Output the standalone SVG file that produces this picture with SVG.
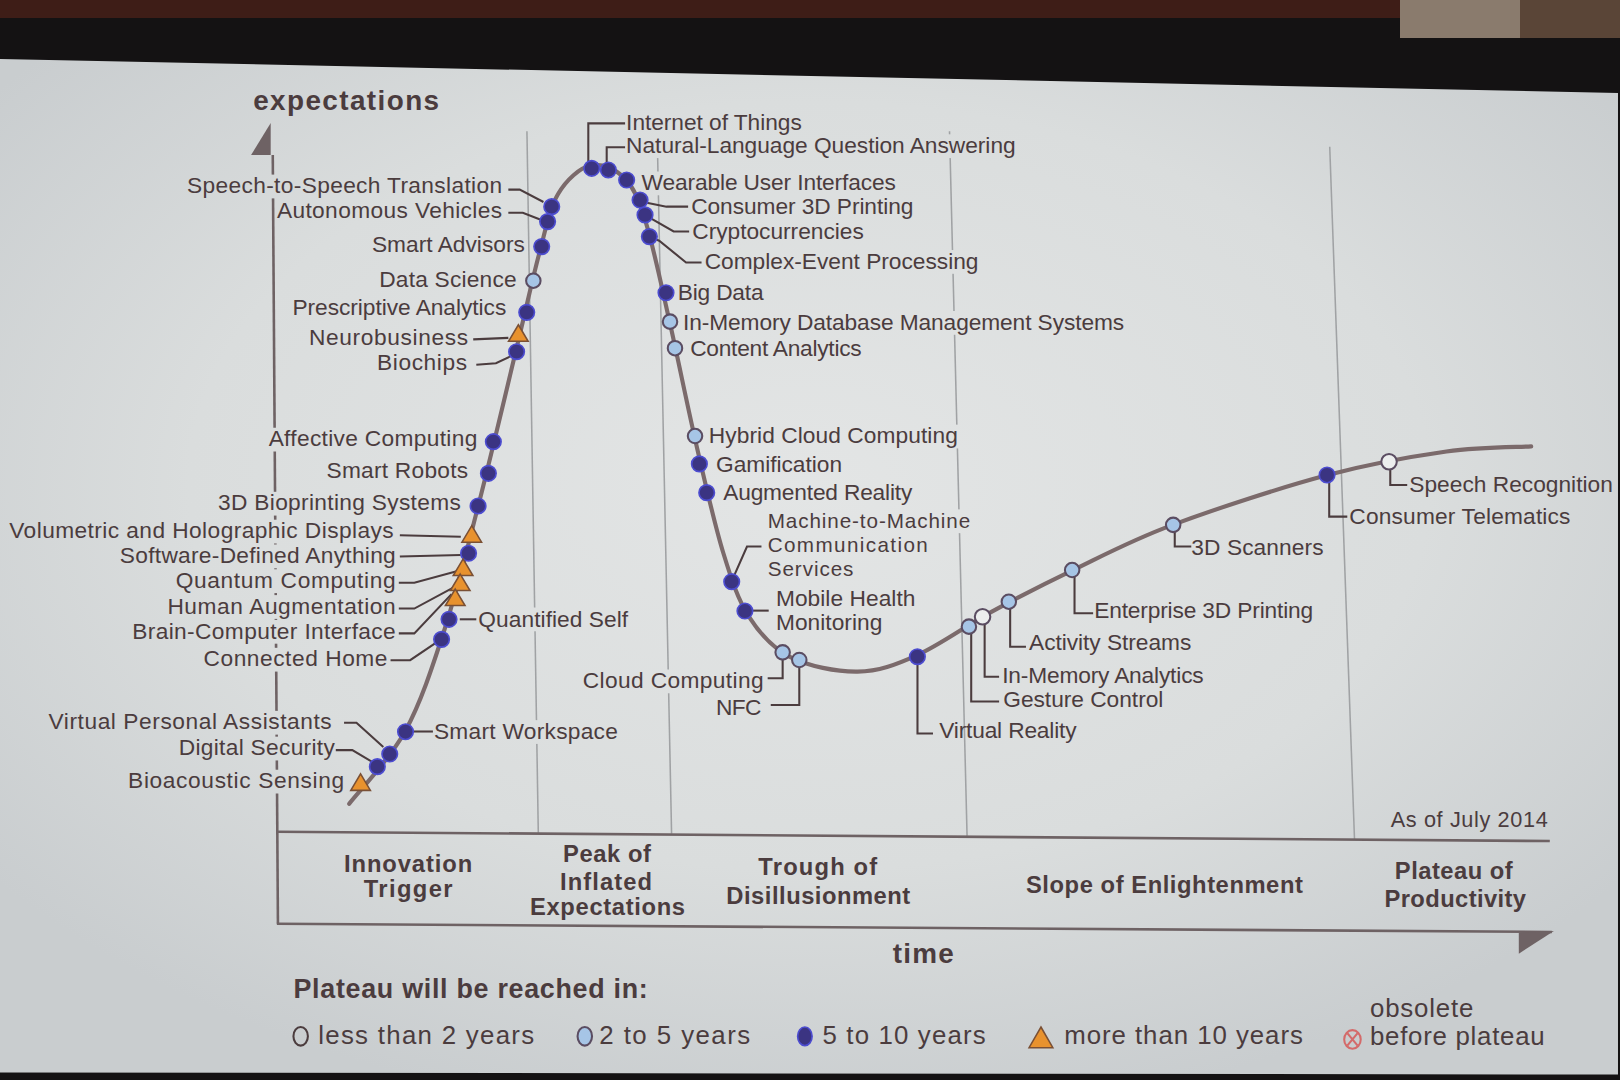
<svg xmlns="http://www.w3.org/2000/svg" xmlns:xlink="http://www.w3.org/1999/xlink" width="1620" height="1080" viewBox="0 0 1620 1080">
<defs>
<radialGradient id="scr" gradientUnits="userSpaceOnUse" cx="783" cy="470" r="1000" gradientTransform="translate(783 470) scale(1 0.62) translate(-783 -470)">
<stop offset="0" stop-color="#e3e5e5"/>
<stop offset="0.6" stop-color="#dadddd"/>
<stop offset="1" stop-color="#c9cdcf"/>
</radialGradient>
<path id="tri" d="M0,-9 L9.5,7 L-9.5,7 Z"/>
<style>
text{font-family:"Liberation Sans",Arial,sans-serif;fill:#4b3c3e}
.lbl{font-size:22px}
.ph{font-size:23px;font-weight:bold}
.big{font-size:27px;font-weight:bold}
.leg{font-size:25px}
.dk{fill:#3b3482;stroke:#4c4cd0;stroke-width:1.6}
.lb{fill:#a6c5e6;stroke:#5b4d62;stroke-width:2}
.wh{fill:#eceeee;stroke:#5b4d62;stroke-width:2}
.tr{fill:#e8922e;stroke:#7a5035;stroke-width:1.5}
.ldr{fill:none;stroke:#4b3c3e;stroke-width:2;stroke-linejoin:miter}
.div{stroke:#a0a2a4;stroke-width:1.5}
.ax{stroke:#6e6264;stroke-width:2.5;fill:none}
.bg{fill:url(#scr)}
</style>
</defs>
<rect width="1620" height="1080" fill="#141213"/>
<rect x="0" y="0" width="1400" height="18" fill="#3e1d17"/>
<rect x="1400" y="0" width="120" height="38" fill="#8a7b6d"/>
<rect x="1520" y="0" width="100" height="38" fill="#5a4537"/>
<g transform="scale(1.0332)">
<polygon points="0,57 1566,90 1566,1040 0,1038" class="bg"/>
<g id="axes">
<line class="div" x1="510" y1="127" x2="521" y2="806"/>
<line class="div" x1="636" y1="127" x2="650" y2="807"/>
<line class="div" x1="919" y1="127" x2="936" y2="809"/>
<line class="div" x1="1287" y1="142" x2="1311" y2="813"/>
<line class="ax" x1="264" y1="150" x2="269" y2="894"/>
<polygon points="262,119 262,150 243,150" fill="#6e6264"/>
<line class="ax" x1="268" y1="805" x2="1500" y2="814"/>
<line class="ax" x1="268" y1="894" x2="1502" y2="902"/>
<polygon points="1470,903 1504,901 1470,923" fill="#6e6264"/>
<text class="big" x="245" y="106" textLength="180">expectations</text>
<text class="big" x="864" y="932" textLength="59">time</text>
</g>
<g id="label-backgrounds" class="bg">
<rect x="178" y="169" width="311" height="23"/>
<rect x="257" y="414" width="208" height="23"/>
<rect x="208" y="476" width="241" height="23"/>
<rect x="6" y="503" width="378" height="23"/>
<rect x="113" y="527" width="273" height="23"/>
<rect x="167" y="551" width="219" height="23"/>
<rect x="159" y="576" width="227" height="23"/>
<rect x="125" y="600" width="261" height="23"/>
<rect x="194" y="627" width="184" height="23"/>
<rect x="44" y="688" width="280" height="23"/>
<rect x="170" y="713" width="157" height="23"/>
<rect x="121" y="745" width="215" height="23"/>
<rect x="460" y="588" width="151" height="23"/>
<rect x="417" y="697" width="184" height="23"/>
<rect x="603" y="108" width="176" height="23"/>
<rect x="603" y="130" width="383" height="23"/>
<rect x="618" y="166" width="252" height="23"/>
<rect x="679" y="242" width="271" height="23"/>
<rect x="658" y="301" width="433" height="23"/>
<rect x="683" y="411" width="247" height="23"/>
<rect x="740" y="493" width="202" height="23"/>
<rect x="561" y="648" width="181" height="23"/>
</g>
<g id="curve">
<path d="M338,778 C347,766 376.7,736 392,708 C407.3,680 418.2,646.5 430,610 C441.8,573.5 451.5,533.8 463,489 C474.5,444.2 489.2,381.7 499,341 C508.8,300.3 515.2,270.5 522,245 C528.8,219.5 531.7,202.2 540,188 C548.3,173.8 561.2,162.5 572,160 C582.8,157.5 596.2,163.8 605,173 C613.8,182.2 617.8,192 625,215 C632.2,238 639.7,274.3 648,311 C656.3,347.7 666.3,397.7 675,435 C683.7,472.3 691.7,508 700,535 C708.3,562 714.2,580.2 725,597 C735.8,613.8 747.5,627.2 765,636 C782.5,644.8 809.5,650.3 830,650 C850.5,649.7 866.3,643.7 888,634 C909.7,624.3 935,605.7 960,592 C985,578.3 1008.8,566 1038,552 C1067.2,538 1094,523.3 1135,508 C1176,492.7 1239.8,471.8 1284,460 C1328.2,448.2 1367,441.7 1400,437 C1433,432.3 1468.3,432.8 1482,432" fill="none" stroke="#7b6a6b" stroke-width="4" stroke-linecap="round"/>
</g>
<g id="connectors">
<path class="ldr" d="M492,183.5 H503 L526,195.5"/>
<path class="ldr" d="M492,206 H506 L524,213"/>
<path class="ldr" d="M458,328.5 L492,327"/>
<path class="ldr" d="M461,353 L480,351.5 L498,343"/>
<path class="ldr" d="M387,518 L446,519.5"/>
<path class="ldr" d="M387,538.7 L446,537.2"/>
<path class="ldr" d="M386,564 H401 L442,553"/>
<path class="ldr" d="M386,589 H401 L440,568"/>
<path class="ldr" d="M386,613 H401 L437,575"/>
<path class="ldr" d="M378,639 H397 L425,620"/>
<path class="ldr" d="M445,599.4 H461"/>
<path class="ldr" d="M333,699.5 H345 L371,723"/>
<path class="ldr" d="M325,726 H341 L363,739"/>
<path class="ldr" d="M392,708 H419"/>
<path class="ldr" d="M569.4,158 V119.4 H605"/>
<path class="ldr" d="M587.2,161 V142.6 H605"/>
<path class="ldr" d="M620,195 L645,200 H666"/>
<path class="ldr" d="M624,208 L652,224 H667"/>
<path class="ldr" d="M628.5,229 L638,233 L664,254 H679"/>
<path class="ldr" d="M708,563 L723,529 H737"/>
<path class="ldr" d="M721,591 H744"/>
<path class="ldr" d="M757.5,631 V656.5 H743"/>
<path class="ldr" d="M773.6,639 V682.4 H746"/>
<path class="ldr" d="M888,635 V710 H903"/>
<path class="ldr" d="M940,606 V679 H967"/>
<path class="ldr" d="M953,597 V655 H967"/>
<path class="ldr" d="M977.7,582 V626 H993"/>
<path class="ldr" d="M1040,552 V593.6 H1058"/>
<path class="ldr" d="M1137,508 V529 H1153"/>
<path class="ldr" d="M1286.5,460 V500 H1304"/>
<path class="ldr" d="M1345.6,447 V469.4 H1362"/>
</g>
<g id="phases">
<text class="ph" x="333" y="844" textLength="124">Innovation</text>
<text class="ph" x="352" y="868" textLength="86">Trigger</text>
<text class="ph" x="545" y="834" textLength="85">Peak of</text>
<text class="ph" x="542" y="861" textLength="89">Inflated</text>
<text class="ph" x="513" y="886" textLength="150">Expectations</text>
<text class="ph" x="734" y="847" textLength="115">Trough of</text>
<text class="ph" x="703" y="875" textLength="178">Disillusionment</text>
<text class="ph" x="993" y="864" textLength="268">Slope of Enlightenment</text>
<text class="ph" x="1350" y="851" textLength="114">Plateau of</text>
<text class="ph" x="1340" y="878" textLength="137">Productivity</text>
<text class="lbl" x="1346" y="800" textLength="152" style="font-size:21px">As of July 2014</text>
</g>
<g id="n-speech-to-speech"><circle class="dk" cx="534" cy="200" r="7.5"/><text class="lbl" x="181" y="187" textLength="305">Speech-to-Speech Translation</text></g>
<g id="n-autonomous"><circle class="dk" cx="530" cy="214.5" r="7.5"/><text class="lbl" x="268" y="211" textLength="218">Autonomous Vehicles</text></g>
<g id="n-smart-advisors"><circle class="dk" cx="524.3" cy="238.7" r="7.5"/><text class="lbl" x="360" y="243.5" textLength="148">Smart Advisors</text></g>
<g id="n-data-science"><circle class="lb" cx="516.2" cy="271.7" r="7"/><text class="lbl" x="367" y="277.5" textLength="133">Data Science</text></g>
<g id="n-prescriptive"><circle class="dk" cx="509.8" cy="302.3" r="7.5"/><text class="lbl" x="283" y="305" textLength="207">Prescriptive Analytics</text></g>
<g id="n-neurobusiness"><use xlink:href="#tri" href="#tri" class="tr" x="501.7" y="323.3"/><text class="lbl" x="299" y="334" textLength="154">Neurobusiness</text></g>
<g id="n-biochips"><circle class="dk" cx="500" cy="340.4" r="7.5"/><text class="lbl" x="365" y="358" textLength="87">Biochips</text></g>
<g id="n-affective"><circle class="dk" cx="477.5" cy="427.5" r="7.5"/><text class="lbl" x="260" y="432" textLength="202">Affective  Computing</text></g>
<g id="n-smart-robots"><circle class="dk" cx="472.7" cy="458.1" r="7.5"/><text class="lbl" x="316" y="463" textLength="137">Smart Robots</text></g>
<g id="n-3d-bioprinting"><circle class="dk" cx="462.7" cy="489.7" r="7.5"/><text class="lbl" x="211" y="494" textLength="235">3D Bioprinting Systems</text></g>
<g id="n-volumetric"><use xlink:href="#tri" href="#tri" class="tr" x="456.6" y="517.8"/><text class="lbl" x="9" y="521" textLength="372">Volumetric and Holographic Displays</text></g>
<g id="n-software-defined"><circle class="dk" cx="453.5" cy="535.5" r="7.5"/><text class="lbl" x="116" y="545" textLength="267">Software-Defined Anything</text></g>
<g id="n-quantum"><use xlink:href="#tri" href="#tri" class="tr" x="448.2" y="550"/><text class="lbl" x="170" y="569.5" textLength="213">Quantum Computing</text></g>
<g id="n-human-aug"><use xlink:href="#tri" href="#tri" class="tr" x="445.4" y="564.6"/><text class="lbl" x="162" y="594" textLength="221">Human Augmentation</text></g>
<g id="n-bci"><use xlink:href="#tri" href="#tri" class="tr" x="440.6" y="579.1"/><text class="lbl" x="128" y="618" textLength="255">Brain-Computer Interface</text></g>
<g id="n-quantified-self"><circle class="dk" cx="434.6" cy="599.4" r="7.5"/><text class="lbl" x="463" y="606.5" textLength="145">Quantified Self</text></g>
<g id="n-connected-home"><circle class="dk" cx="427.4" cy="618.8" r="7.5"/><text class="lbl" x="197" y="645" textLength="178">Connected Home</text></g>
<g id="n-smart-workspace"><circle class="dk" cx="392.5" cy="708.2" r="7.5"/><text class="lbl" x="420" y="715" textLength="178">Smart Workspace</text></g>
<g id="n-vpa"><circle class="dk" cx="377.2" cy="729.8" r="7.5"/><text class="lbl" x="47" y="706" textLength="274">Virtual Personal Assistants</text></g>
<g id="n-digital-security"><circle class="dk" cx="365.2" cy="742" r="7.5"/><text class="lbl" x="173" y="731" textLength="151">Digital Security</text></g>
<g id="n-bioacoustic"><use xlink:href="#tri" href="#tri" class="tr" x="349" y="758"/><text class="lbl" x="124" y="763" textLength="209">Bioacoustic Sensing</text></g>
<g id="n-iot"><circle class="dk" cx="572.7" cy="162.9" r="7.5"/><text class="lbl" x="606" y="126" textLength="170">Internet of Things</text></g>
<g id="n-nlqa"><circle class="dk" cx="588.8" cy="164.5" r="7.5"/><text class="lbl" x="606" y="148.5" textLength="377">Natural-Language Question Answering</text></g>
<g id="n-wearable"><circle class="dk" cx="606.5" cy="174.2" r="7.5"/><text class="lbl" x="621" y="184" textLength="246">Wearable User Interfaces</text></g>
<g id="n-consumer-3d"><circle class="dk" cx="619.5" cy="193.6" r="7.5"/><text class="lbl" x="669" y="207" textLength="215">Consumer 3D Printing</text></g>
<g id="n-crypto"><circle class="dk" cx="624.3" cy="208" r="7.5"/><text class="lbl" x="670" y="231" textLength="166">Cryptocurrencies</text></g>
<g id="n-cep"><circle class="dk" cx="628.5" cy="229" r="7.5"/><text class="lbl" x="682" y="260" textLength="265">Complex-Event Processing</text></g>
<g id="n-big-data"><circle class="dk" cx="644.6" cy="283.3" r="7.5"/><text class="lbl" x="656" y="290" textLength="83">Big Data</text></g>
<g id="n-imdbms"><circle class="lb" cx="648.5" cy="311.3" r="7"/><text class="lbl" x="661" y="319.5" textLength="427">In-Memory Database Management Systems</text></g>
<g id="n-content-analytics"><circle class="lb" cx="653.3" cy="337" r="7"/><text class="lbl" x="668" y="345" textLength="166">Content Analytics</text></g>
<g id="n-hybrid-cloud"><circle class="lb" cx="672.7" cy="422" r="7"/><text class="lbl" x="686" y="429" textLength="241">Hybrid Cloud Computing</text></g>
<g id="n-gamification"><circle class="dk" cx="676.9" cy="449" r="7.5"/><text class="lbl" x="693" y="456.5" textLength="122">Gamification</text></g>
<g id="n-ar"><circle class="dk" cx="684" cy="476.8" r="7.5"/><text class="lbl" x="700" y="484" textLength="183">Augmented Reality</text></g>
<g id="n-m2m"><circle class="dk" cx="708.2" cy="563" r="7.5"/><text class="lbl" x="743" y="511" textLength="196" style="font-size:20px">Machine-to-Machine</text><text class="lbl" x="743" y="534.5" textLength="155" style="font-size:20px">Communication</text><text class="lbl" x="743" y="557.5" textLength="83" style="font-size:20px">Services</text></g>
<g id="n-mobile-health"><circle class="dk" cx="721" cy="591.4" r="7.5"/><text class="lbl" x="751" y="586.5" textLength="135">Mobile Health</text><text class="lbl" x="751" y="610" textLength="103">Monitoring</text></g>
<g id="n-cloud"><circle class="lb" cx="757.5" cy="631.4" r="7"/><text class="lbl" x="564" y="666" textLength="175">Cloud Computing</text></g>
<g id="n-nfc"><circle class="lb" cx="773.6" cy="638.8" r="7"/><text class="lbl" x="693" y="692" textLength="44">NFC</text></g>
<g id="n-vr"><circle class="dk" cx="887.9" cy="635.6" r="7.5"/><text class="lbl" x="909" y="714.5" textLength="133">Virtual Reality</text></g>
<g id="n-gesture"><circle class="lb" cx="937.8" cy="606.5" r="7"/><text class="lbl" x="971" y="684" textLength="155">Gesture Control</text></g>
<g id="n-ima"><circle class="wh" cx="951" cy="596.9" r="7.5"/><text class="lbl" x="970" y="661" textLength="195">In-Memory Analytics</text></g>
<g id="n-activity"><circle class="lb" cx="976.4" cy="582.4" r="7"/><text class="lbl" x="996" y="629" textLength="157">Activity  Streams</text></g>
<g id="n-e3dp"><circle class="lb" cx="1037.7" cy="551.7" r="7"/><text class="lbl" x="1059" y="598.5" textLength="212">Enterprise 3D Printing</text></g>
<g id="n-3dscanners"><circle class="lb" cx="1135.5" cy="508" r="7"/><text class="lbl" x="1153" y="537" textLength="128">3D Scanners</text></g>
<g id="n-telematics"><circle class="dk" cx="1284.4" cy="459.7" r="7.5"/><text class="lbl" x="1306" y="507" textLength="214">Consumer Telematics</text></g>
<g id="n-speech-rec"><circle class="wh" cx="1344.4" cy="446.9" r="7.5"/><text class="lbl" x="1364" y="476" textLength="197">Speech Recognition</text></g>
<g id="legend">
<text class="big" x="284" y="966" textLength="343" style="font-size:26px">Plateau will be reached in:</text>
<ellipse cx="291" cy="1003" rx="7" ry="9" fill="none" stroke="#4b3c3e" stroke-width="2"/>
<text class="leg" x="308" y="1010" textLength="209">less than 2 years</text>
<ellipse cx="566" cy="1003" rx="7" ry="9" fill="#a6c5e6" stroke="#5b4d62" stroke-width="2"/>
<text class="leg" x="580" y="1010" textLength="146">2 to 5 years</text>
<ellipse cx="779" cy="1003" rx="7" ry="9" fill="#3b3482" stroke="#4c4cd0" stroke-width="1.6"/>
<text class="leg" x="796" y="1010" textLength="158">5 to 10 years</text>
<polygon points="1007.5,994 1019,1014 996,1014" fill="#e8922e" stroke="#7a5035" stroke-width="1.5"/>
<text class="leg" x="1030" y="1010" textLength="231">more than 10 years</text>
<g stroke="#d46a6a" stroke-width="2" fill="none"><ellipse cx="1309" cy="1006" rx="8" ry="9"/><path d="M1304,1000 L1314,1012 M1314,1000 L1304,1012"/></g>
<text class="leg" x="1326" y="984.5" textLength="100">obsolete</text>
<text class="leg" x="1326" y="1011.5" textLength="169">before plateau</text>
</g>
</g>
</svg>
